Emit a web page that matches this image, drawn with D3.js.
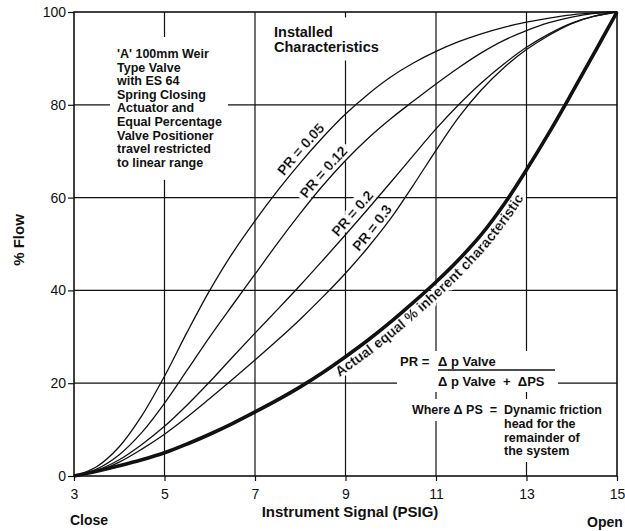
<!DOCTYPE html>
<html>
<head>
<meta charset="utf-8">
<script src="https://cdn.jsdelivr.net/npm/d3@7"></script>
<style>
  body { margin: 0; background: #fff; }
  text { font-family: "Liberation Sans", Arial, Helvetica, sans-serif; fill: #111; }
  .curve-label, .curve-label textPath { font-weight: 700; }
</style>
</head>
<body>
<svg id="chart" width="625" height="531"></svg>
<script>
// instrument signal (PSIG) and % flow for each curve
const signal = [3, 3.5, 4, 4.5, 5, 5.5, 6, 6.5, 7, 7.5, 8, 8.5, 9, 9.5, 10, 10.5, 11, 11.5, 12, 12.5, 13, 13.5, 14, 14.5, 15];
const pr005 = [0, 2, 6.3, 13, 21.5, 31, 40, 48, 55, 61.5, 67.5, 73, 78, 82.3, 86, 89, 91.5, 93.6, 95.3, 96.7, 97.8, 98.7, 99.4, 99.8, 100];
const pr012 = [0, 1.5, 4.6, 9.4, 15.7, 22.8, 30, 36.8, 43.5, 50.2, 56.6, 62.6, 68, 72.8, 77, 80.8, 84.5, 88, 91.2, 93.9, 96, 97.7, 98.9, 99.7, 100];
const pr02 = [0, 1.2, 3.5, 6.8, 10.7, 15.3, 20.3, 25.6, 30.8, 35.9, 41.1, 46.5, 52, 57.6, 63.3, 69.1, 74.8, 80, 84.7, 88.8, 92.4, 95.3, 97.6, 99.1, 100];
const pr03 = [0, 1, 3, 5.8, 9, 12.7, 16.7, 20.8, 25, 29.3, 33.8, 38.6, 43.7, 49.3, 55.5, 62.7, 70.2, 77.3, 83.2, 88, 91.9, 95, 97.5, 99.1, 100];
const inherent = [0, 1, 2.2, 3.5, 5, 6.9, 9, 11.3, 13.8, 16.4, 19.2, 22.3, 25.7, 29.3, 33.2, 37.4, 41.8, 46.6, 52, 58.5, 66, 74, 82.5, 91.2, 100];

const seriesNames = ["PR = 0.05", "PR = 0.12", "PR = 0.2", "PR = 0.3", "Actual equal % inherent characteristic"];
const seriesValues = [pr005, pr012, pr02, pr03, inherent];
const labelAt = [8.15, 8.65, 9.3, 9.75, 8.7];

const xTicks = [3, 5, 7, 9, 11, 13, 15];
const yTicks = [0, 20, 40, 60, 80, 100];

const noteLines = ["'A' 100mm Weir", "Type Valve", "with ES 64", "Spring Closing", "Actuator and",
  "Equal Percentage", "Valve Positioner", "travel restricted", "to linear range"];
const titleLines = ["Installed", "Characteristics"];
const whereLines = ["Dynamic friction", "head for the", "remainder of", "the system"];

const margin = { top: 12, right: 8, bottom: 55, left: 74 },
      width = 625 - margin.left - margin.right,
      height = 531 - margin.top - margin.bottom;

const svg = d3.select("#chart");

// white halo round the curve labels so they cut the grid
const halo = svg.append("defs").append("filter").attr("id", "halo")
  .attr("x", "-10%").attr("y", "-10%").attr("width", "120%").attr("height", "120%");
halo.append("feMorphology").attr("in", "SourceAlpha").attr("operator", "dilate").attr("radius", 3).attr("result", "fat");
halo.append("feFlood").attr("flood-color", "#fff");
halo.append("feComposite").attr("in2", "fat").attr("operator", "in").attr("result", "white");
const merge = halo.append("feMerge");
merge.append("feMergeNode").attr("in", "white");
merge.append("feMergeNode").attr("in", "SourceGraphic");

const g = svg.append("g").attr("transform", `translate(${margin.left},${margin.top})`);

const x = d3.scaleLinear().domain([3, 15]).range([0, width]);
const y = d3.scaleLinear().domain([0, 100]).range([height, 0]);

// grid
const grid = g.append("g").attr("stroke", "#111").attr("stroke-width", 1.2);
grid.selectAll(".vx").data(xTicks.slice(1, -1)).enter().append("line")
  .attr("x1", d => x(d)).attr("x2", d => x(d)).attr("y1", 0).attr("y2", height);
grid.selectAll(".hy").data(yTicks.slice(1, -1)).enter().append("line")
  .attr("y1", d => y(d)).attr("y2", d => y(d)).attr("x1", 0).attr("x2", width);

// white patches behind the notes break the grid, as in the original
const backs = g.append("g");
const notes = g.append("g").attr("font-weight", "bold");
function backdrop(block, px, py) {
  const b = block.node().getBBox();
  backs.append("rect")
    .attr("x", b.x - px).attr("y", b.y - py)
    .attr("width", b.width + 2 * px).attr("height", b.height + 2 * py)
    .attr("fill", "#fff");
}

const note = notes.append("g").attr("font-size", 12.5);
note.selectAll("text").data(noteLines).enter().append("text")
  .attr("x", 43).attr("y", (d, i) => 46 + i * 13.6).text(d => d);
backdrop(note, 6, 10);

const title = notes.append("g").attr("font-size", 14.5);
title.selectAll("text").data(titleLines).enter().append("text")
  .attr("x", 200).attr("y", (d, i) => 24.5 + i * 15).text(d => d);
backdrop(title, 8, 6);

const formula = notes.append("g").attr("font-size", 13);
formula.append("text").attr("x", 326).attr("y", 354).text("PR =");
formula.append("text").attr("x", 364).attr("y", 354).text("\u0394 p Valve");
formula.append("text").attr("x", 364).attr("y", 374).text("\u0394 p Valve\u00a0\u00a0+\u00a0\u00a0\u0394PS");
formula.append("line").attr("x1", 364).attr("x2", 481).attr("y1", 358).attr("y2", 358)
  .attr("stroke", "#111").attr("stroke-width", 1.3);
backdrop(formula, 3, 3);

const where1 = notes.append("g").attr("font-size", 12.5);
where1.append("text").attr("x", 423).attr("y", 402).attr("text-anchor", "end")
  .text("Where\u00a0\u0394\u00a0PS\u00a0\u00a0=");
where1.append("text").attr("x", 430).attr("y", 402).text(whereLines[0]);
backdrop(where1, 3, 4);

const where2 = notes.append("g").attr("font-size", 12.5);
where2.selectAll("text").data(whereLines.slice(1)).enter().append("text")
  .attr("x", 430).attr("y", (d, i) => 416 + i * 13.5).text(d => d);
backdrop(where2, 3, 4);

// frame
g.append("rect").attr("width", width).attr("height", height)
  .attr("fill", "none").attr("stroke", "#111").attr("stroke-width", 1.6);

// axes
const yAxis = g.append("g").call(d3.axisLeft(y).tickValues(yTicks).tickSize(6).tickPadding(2));
const xAxis = g.append("g").attr("transform", `translate(0,${height})`)
  .call(d3.axisBottom(x).tickValues(xTicks).tickSize(5).tickPadding(8));
[xAxis, yAxis].forEach(a => {
  a.select(".domain").remove();
  a.selectAll("line").attr("stroke", "#111").attr("stroke-width", 1.2);
  a.selectAll("text").attr("font-size", 14).attr("fill", "#111")
    .attr("font-family", "'Liberation Sans', Arial, sans-serif");
});

svg.append("text").attr("transform", "translate(24,240) rotate(-90)")
  .attr("text-anchor", "middle").attr("font-size", 15).attr("font-weight", "bold").text("% Flow");
svg.append("text").attr("x", 350).attr("y", 517)
  .attr("text-anchor", "middle").attr("font-size", 15).attr("font-weight", "bold").text("Instrument Signal (PSIG)");
svg.append("text").attr("x", 70).attr("y", 525)
  .attr("font-size", 14).attr("font-weight", "bold").text("Close");
svg.append("text").attr("x", 587).attr("y", 527)
  .attr("font-size", 14).attr("font-weight", "bold").text("Open");

// curves; labels go underneath so the lines stay on top
const line = d3.line().x(d => x(d[0])).y(d => y(d[1])).curve(d3.curveCatmullRom.alpha(0.5));
const labelLayer = g.append("g");
const curveLayer = g.append("g");

function lengthAtX(node, px) {
  let lo = 0, hi = node.getTotalLength();
  for (let i = 0; i < 30; i++) {
    const mid = (lo + hi) / 2;
    if (node.getPointAtLength(mid).x < px) lo = mid; else hi = mid;
  }
  return lo;
}

seriesValues.forEach((vals, i) => {
  const thick = i === seriesValues.length - 1;
  const path = curveLayer.append("path")
    .attr("id", "curve" + i)
    .datum(signal.map((s, k) => [s, vals[k]]))
    .attr("d", line)
    .attr("fill", "none").attr("stroke", "#111")
    .attr("stroke-width", thick ? 3.6 : 1.3)
    .attr("stroke-linejoin", "round");
  const off = lengthAtX(path.node(), x(labelAt[i]));
  labelLayer.append("text")
    .attr("class", "curve-label")
    .attr("filter", "url(#halo)")
    .attr("font-size", 14)
    .attr("stroke", "#111").attr("stroke-width", 0.35)
    .attr("dy", thick ? 13 : -4)
    .append("textPath").attr("href", "#curve" + i)
    .attr("startOffset", off)
    .attr("text-anchor", thick ? "start" : "middle")
    .text(seriesNames[i]);
});
</script>
</body>
</html>
